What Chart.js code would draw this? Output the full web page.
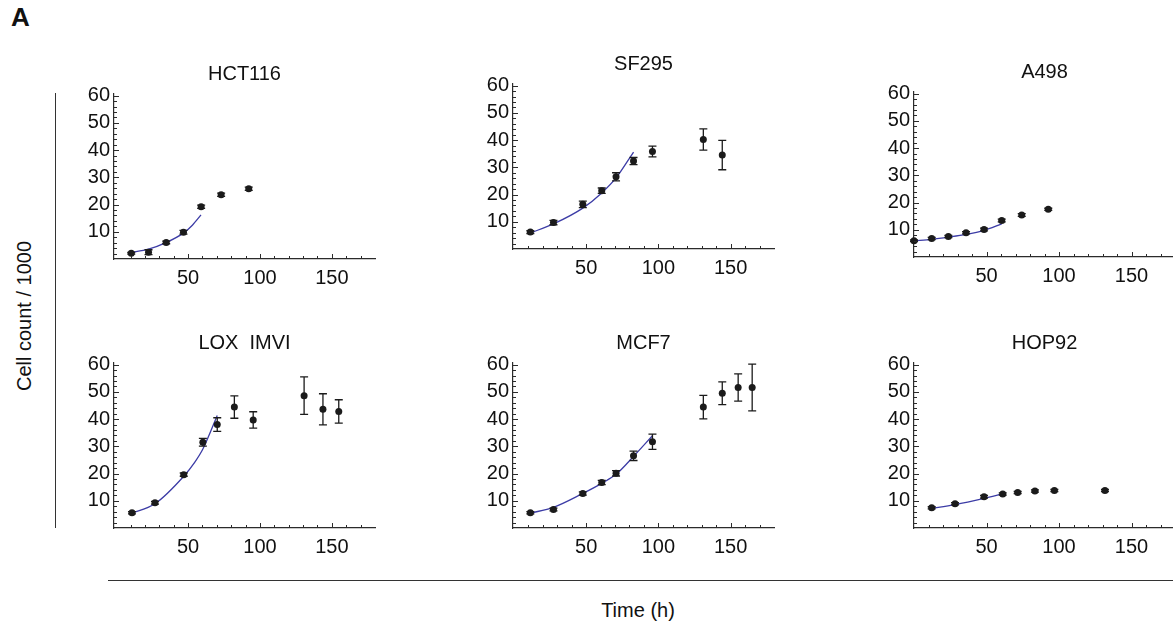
<!DOCTYPE html>
<html>
<head>
<meta charset="utf-8">
<script src="https://cdn.jsdelivr.net/npm/chart.js@4.4.1/dist/chart.umd.min.js"></script>
<style>
html, body { margin: 0; padding: 0; background: #fff; }
#page {
    position: relative;
    width: 1173px;
    height: 624px;
    overflow: hidden;
    font-family: "Liberation Sans", Arial, sans-serif;
    color: #111;
}
#page canvas { position: absolute; }
#panelLabel { position: absolute; left: 11px; top: 2px; font-size: 26px; font-weight: bold; }
#yTitle {
    position: absolute; left: 24px; top: 316px;
    transform: translate(-50%, -50%) rotate(-90deg);
    white-space: nowrap; font-size: 20px;
}
#yLine { position: absolute; left: 55px; top: 93px; width: 1px; height: 435px; background: #333; }
#xLine { position: absolute; left: 108px; top: 580px; width: 1070px; height: 1px; background: #333; }
#xTitle {
    position: absolute; left: 638px; top: 610px;
    transform: translate(-50%, -50%);
    white-space: nowrap; font-size: 20px;
}
</style>
</head>
<body>
<div id="page">
    <div id="panelLabel">A</div>
    <div id="yTitle">Cell count / 1000</div>
    <div id="yLine"></div>
    <div id="xLine"></div>
    <div id="xTitle">Time (h)</div>
</div>
<script>
// Values (time in h, count in thousands).
const hctTime = [10.5, 22.5, 34.8, 46.8, 59.1, 73.0, 92.2];
const hctCount = [2.1, 2.5, 6.1, 9.8, 19.2, 23.6, 25.8];
const hctErr = [0.3, 0.9, 0.5, 0.7, 0.6, 0.6, 0.6];
const hctFitTime = [9.5, 22.5, 35, 47, 53, 59];
const hctFitCount = [2.3, 3.6, 6.1, 9.6, 12.4, 16.2];

const sfTime = [11.4, 27.4, 47.7, 60.8, 70.7, 82.8, 95.9, 131.1, 144.2];
const sfCount = [6.2, 9.7, 16.4, 21.4, 26.5, 32.3, 35.8, 40.2, 34.5];
const sfErr = [0.5, 0.8, 1.2, 1.0, 1.5, 1.3, 2.0, 3.9, 5.4];
const sfFitTime = [10.9, 27.4, 47.7, 60.8, 70.7, 82.8];
const sfFitCount = [5.8, 9.2, 15.0, 20.6, 26.1, 35.6];

const aTime = [0, 12.2, 23.7, 35.9, 48.3, 60.5, 74.3, 92.6];
const aCount = [6.0, 6.8, 7.5, 8.9, 10.1, 13.4, 15.4, 17.5];
const aErr = [0.3, 0.4, 0.4, 0.4, 0.5, 0.5, 0.5, 0.4];
const aFitTime = [0, 12.2, 23.7, 35.9, 48.3, 60.5];
const aFitCount = [5.9, 6.5, 7.3, 8.3, 9.8, 12.2];

const loxTime = [11.0, 27.0, 47.0, 60.3, 70.3, 82.2, 95.3, 130.7, 143.8, 154.8];
const loxCount = [5.6, 9.3, 19.6, 31.5, 38.0, 44.4, 39.7, 48.6, 43.6, 42.8];
const loxErr = [0.4, 0.5, 0.6, 1.4, 2.5, 4.1, 3.0, 6.9, 5.7, 4.3];
const loxFitTime = [9.8, 27, 47, 54.6, 60.3, 70.3];
const loxFitCount = [5.3, 8.9, 19.0, 24.1, 29.0, 41.3];

const mcfTime = [11.4, 27.4, 47.7, 60.8, 70.7, 82.8, 95.9, 131.1, 144.2, 155.2, 164.9];
const mcfCount = [5.6, 6.8, 12.7, 16.7, 20.1, 26.5, 31.7, 44.4, 49.5, 51.6, 51.6];
const mcfErr = [0.4, 0.5, 0.6, 0.8, 1.0, 1.7, 2.8, 4.3, 4.2, 5.0, 8.6];
const mcfFitTime = [11, 27.4, 47.7, 60.8, 70.7, 82.8, 95.9];
const mcfFitCount = [5.4, 7.6, 12.7, 16.4, 19.7, 26.3, 33.9];

const hopTime = [12.2, 28.3, 48.3, 61.2, 71.5, 83.4, 96.8, 131.7];
const hopCount = [7.4, 8.9, 11.5, 12.5, 13.0, 13.6, 13.8, 13.8];
const hopErr = [0.4, 0.4, 0.5, 0.4, 0.4, 0.4, 0.4, 0.4];
const hopFitTime = [11, 28.3, 48.3, 61.2];
const hopFitCount = [7.1, 8.6, 10.9, 12.6];

const xTickValues = [50, 100, 150];
const yTickValues = [10, 20, 30, 40, 50, 60];

// Where each panel's plot area sits on the page.
const PLOT_W = 261;
const PLOT_H = 165;
const Y_AXIS_W = 50;
const X_AXIS_H = 40;
const TOP_SPACE = 34;
const RIGHT_PAD = 10;

const AXIS_COLOR = '#2b2b2b';
const POINT_COLOR = '#1b1b1b';
const FIT_COLOR = '#3c3ca6';

const panels = [
    { title: 'HCT116', left: 114, bottom: 259, xMin: -1.5, t: hctTime, c: hctCount, e: hctErr, ft: hctFitTime, fc: hctFitCount },
    { title: 'SF295', left: 513, bottom: 249, xMin: -0.6, t: sfTime, c: sfCount, e: sfErr, ft: sfFitTime, fc: sfFitCount },
    { title: 'A498', left: 914, bottom: 257, xMin: 0, t: aTime, c: aCount, e: aErr, ft: aFitTime, fc: aFitCount },
    { title: 'LOX  IMVI', left: 114, bottom: 528, xMin: -1.5, t: loxTime, c: loxCount, e: loxErr, ft: loxFitTime, fc: loxFitCount },
    { title: 'MCF7', left: 513, bottom: 528, xMin: -0.6, t: mcfTime, c: mcfCount, e: mcfErr, ft: mcfFitTime, fc: mcfFitCount },
    { title: 'HOP92', left: 914, bottom: 528, xMin: 0, t: hopTime, c: hopCount, e: hopErr, ft: hopFitTime, fc: hopFitCount },
];

Chart.defaults.font.family = '"Liberation Sans", Arial, sans-serif';
Chart.defaults.color = '#111';

// Mathematica style ticks, pointing into the plot.
const innerTicks = {
    id: 'innerTicks',
    afterDraw(chart) {
        const { ctx, chartArea, scales: { x, y } } = chart;
        ctx.save();
        ctx.strokeStyle = AXIS_COLOR;
        ctx.lineWidth = 1;
        ctx.beginPath();
        for (let v = 10; v < x.max; v += 10) {
            if (v <= x.min) continue;
            const px = Math.round(x.getPixelForValue(v)) + 0.5;
            const len = v % 50 === 0 ? 5 : 3;
            ctx.moveTo(px, chartArea.bottom);
            ctx.lineTo(px, chartArea.bottom - len);
        }
        for (let v = 2; v <= 60; v += 2) {
            const py = Math.round(y.getPixelForValue(v)) + 0.5;
            const len = v % 10 === 0 ? 5 : 3;
            ctx.moveTo(chartArea.left, py);
            ctx.lineTo(chartArea.left + len, py);
        }
        ctx.stroke();
        ctx.restore();
    }
};

const errorBars = {
    id: 'errorBars',
    afterDatasetsDraw(chart) {
        const { ctx, scales: { y } } = chart;
        chart.data.datasets.forEach((ds, i) => {
            if (!ds.errors) return;
            const meta = chart.getDatasetMeta(i);
            ctx.save();
            ctx.strokeStyle = POINT_COLOR;
            ctx.lineWidth = 1.3;
            meta.data.forEach((pt, j) => {
                const val = ds.data[j].y;
                const err = ds.errors[j];
                const top = y.getPixelForValue(val + err);
                const bot = y.getPixelForValue(val - err);
                ctx.beginPath();
                ctx.moveTo(pt.x, top);
                ctx.lineTo(pt.x, bot);
                ctx.moveTo(pt.x - 4, top);
                ctx.lineTo(pt.x + 4, top);
                ctx.moveTo(pt.x - 4, bot);
                ctx.lineTo(pt.x + 4, bot);
                ctx.stroke();
            });
            ctx.restore();
        });
    }
};

function toXY(xs, ys) {
    return xs.map((x, i) => ({ x: x, y: ys[i] }));
}

function makePanel(p) {
    const canvas = document.createElement('canvas');
    const w = Y_AXIS_W + PLOT_W + RIGHT_PAD;
    const h = TOP_SPACE + PLOT_H + X_AXIS_H;
    canvas.width = w;
    canvas.height = h;
    canvas.style.width = w + 'px';
    canvas.style.height = h + 'px';
    canvas.style.left = (p.left - Y_AXIS_W) + 'px';
    canvas.style.top = (p.bottom - PLOT_H - TOP_SPACE) + 'px';
    document.getElementById('page').appendChild(canvas);

    new Chart(canvas, {
        type: 'scatter',
        data: {
            datasets: [
                {
                    label: 'data',
                    data: toXY(p.t, p.c),
                    errors: p.e,
                    pointRadius: 3.5,
                    pointBackgroundColor: POINT_COLOR,
                    pointBorderWidth: 0,
                    clip: false,
                    order: 0
                },
                {
                    label: 'fit',
                    type: 'line',
                    data: toXY(p.ft, p.fc),
                    borderColor: FIT_COLOR,
                    borderWidth: 1.3,
                    pointRadius: 0,
                    cubicInterpolationMode: 'monotone',
                    clip: false,
                    order: 1
                }
            ]
        },
        options: {
            responsive: false,
            animation: false,
            events: [],
            layout: { padding: { top: 2, right: RIGHT_PAD, left: 0, bottom: 0 } },
            plugins: {
                legend: { display: false },
                tooltip: { enabled: false },
                title: {
                    display: true,
                    text: p.title,
                    fullSize: false,
                    color: '#111',
                    font: { size: 20, weight: 'normal' },
                    padding: { top: 0, bottom: 8 }
                }
            },
            scales: {
                x: {
                    type: 'linear',
                    min: p.xMin,
                    max: 180,
                    grid: { display: false, drawTicks: false },
                    border: { display: true, color: AXIS_COLOR, width: 1.2 },
                    ticks: { padding: 7, font: { size: 20 }, color: '#111', maxRotation: 0, autoSkip: false },
                    afterBuildTicks: (s) => { s.ticks = xTickValues.map((v) => ({ value: v })); },
                    afterFit: (s) => { s.height = X_AXIS_H; }
                },
                y: {
                    type: 'linear',
                    min: 0,
                    max: 60.6,
                    grid: { display: false, drawTicks: false },
                    border: { display: true, color: AXIS_COLOR, width: 1.2 },
                    ticks: { padding: 4, font: { size: 20 }, color: '#111' },
                    afterBuildTicks: (s) => { s.ticks = yTickValues.map((v) => ({ value: v })); },
                    afterFit: (s) => { s.width = Y_AXIS_W; }
                }
            }
        },
        plugins: [innerTicks, errorBars]
    });
}

panels.forEach(makePanel);
</script>
</body>
</html>
